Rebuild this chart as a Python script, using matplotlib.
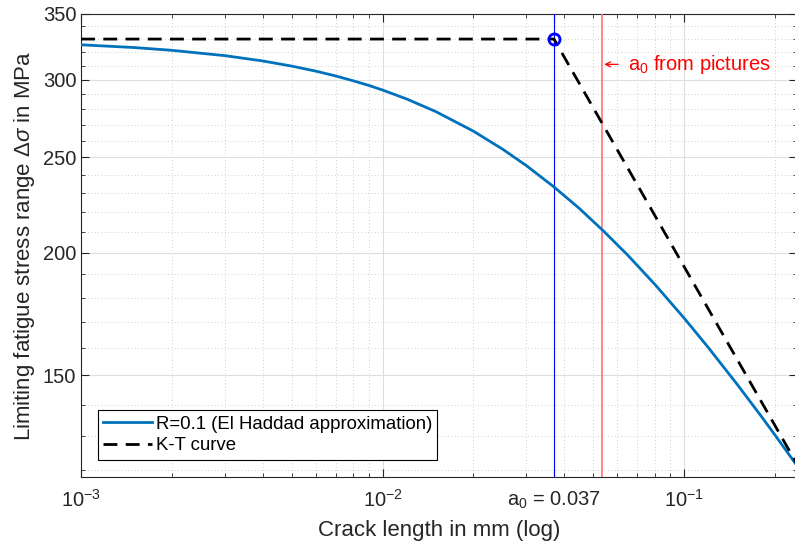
"""
Limite de fatiga vs longitud de grieta (El Haddad / Kitagawa-Takahashi)
"""
import numpy as np
import matplotlib
matplotlib.use("Agg")
from matplotlib import pyplot as plt
from matplotlib.ticker import FixedLocator, NullFormatter, LogLocator

#---FUENTES TIPO MATLAB
plt.rcParams['font.family'] = ['Liberation Sans', 'DejaVu Sans']
plt.rcParams['mathtext.fontset'] = 'custom'
plt.rcParams['mathtext.rm'] = 'Liberation Sans'
plt.rcParams['mathtext.it'] = 'Liberation Sans:italic'
plt.rcParams['mathtext.sf'] = 'Liberation Sans'

#---DATOS
a_haddad = [0.001, 0.0015, 0.002, 0.003, 0.004, 0.005, 0.006, 0.007, 0.008,
            0.009, 0.01, 0.012, 0.015, 0.02, 0.025, 0.03, 0.037, 0.045,
            0.054, 0.065, 0.08, 0.1, 0.12, 0.15, 0.18, 0.2, 0.236]
ds_haddad = [325.6, 323.5, 321.4, 317.4, 313.5, 309.7, 306.1, 302.6, 299.2,
             296.0, 292.8, 286.8, 278.4, 265.9, 254.9, 245.2, 233.3, 221.7,
             210.4, 198.8, 185.6, 171.5, 160.2, 146.8, 136.3, 130.4, 121.5]
a_kt = [0.001, 0.037, 0.236]
ds_kt = [330, 330, 122]
a0 = 0.037
a0_fotos = 0.0535
ds0 = 330
xtick_pos = [1e-3, 1e-2, 0.037, 1e-1]
xtick_lab = ['10$^{-3}$', '10$^{-2}$', 'a$_0$ = 0.037', '10$^{-1}$']
ytick_pos = [150, 200, 250, 300, 350]
ytick_minor = [120, 130, 140, 160, 170, 180, 190, 210, 220, 230, 240,
               260, 270, 280, 290, 310, 320, 330, 340]

fig = plt.figure(figsize=(7.95, 5.59), dpi=100)
ax = fig.add_axes([0.102, 0.147, 0.9, 0.828])

ax.set_xscale('log')
ax.set_yscale('log')

ax.plot(a_haddad, ds_haddad, color=(0, 0.447, 0.741), lw=2,
        label='R=0.1 (El Haddad approximation)', zorder=4)
ax.plot(a_kt, ds_kt, 'k--', lw=2, dashes=(5, 3), label='K-T curve', zorder=4)
ax.axvline(a0, color=(0, 0, 1), lw=0.8, zorder=3)
ax.axvline(a0_fotos, color=(1, 0.45, 0.45), lw=1.2, zorder=3)
ax.plot([a0], [ds0], 'o', mfc='none', mec=(0, 0, 1), mew=2, ms=8, zorder=5)

#---TEXTO CON FLECHA
ax.annotate('a$_0$ from pictures', xy=(0.0543, 311), xytext=(0.065, 311),
            color='red', fontsize=14.5, va='center', ha='left',
            arrowprops=dict(arrowstyle='->', color='red', lw=0.9,
                            shrinkA=5, shrinkB=0, mutation_scale=9))

ax.set_xlim(1e-3, 0.236)
ax.set_ylim(118.2, 350)

#---MARCAS DE LOS EJES
ax.xaxis.set_major_locator(FixedLocator(xtick_pos))
ax.set_xticklabels(xtick_lab)
ax.xaxis.set_minor_locator(LogLocator(base=10, subs=np.arange(2, 10), numticks=20))
ax.yaxis.set_major_locator(FixedLocator(ytick_pos))
ax.set_yticklabels([str(v) for v in ytick_pos])
ax.yaxis.set_minor_locator(FixedLocator(ytick_minor))
ax.yaxis.set_minor_formatter(NullFormatter())
ax.xaxis.set_minor_formatter(NullFormatter())

ax.tick_params(which='both', direction='in', top=True, right=True,
               colors=(0.15, 0.15, 0.15), labelsize=14.5)
ax.tick_params(axis='x', which='major', pad=9)
ax.tick_params(which='major', length=6, width=0.8)
ax.tick_params(which='minor', length=3, width=0.6)

ax.grid(True, which='major', color=(0.87, 0.87, 0.87), lw=0.8, zorder=0)
ax.grid(True, which='minor', color=(0.75, 0.75, 0.75), lw=0.6, ls=(0, (1, 3)), zorder=0)
ax.set_axisbelow(True)

for s in ax.spines.values():
    s.set_color((0.15, 0.15, 0.15))
    s.set_linewidth(0.8)

ax.set_xlabel('Crack length in mm (log)', fontsize=16, color=(0.15, 0.15, 0.15), labelpad=6)
ax.set_ylabel(r'Limiting fatigue stress range $\Delta\sigma$ in MPa', fontsize=16,
              color=(0.15, 0.15, 0.15), labelpad=4)

leg = ax.legend(loc='lower left', fontsize=13.4, frameon=True, fancybox=False,
                edgecolor='black', framealpha=1, handlelength=2.6,
                borderaxespad=0.9, handletextpad=0.2, borderpad=0.3, labelspacing=0.25)
leg.get_frame().set_linewidth(0.8)

fig.savefig('out.png', dpi=100)
